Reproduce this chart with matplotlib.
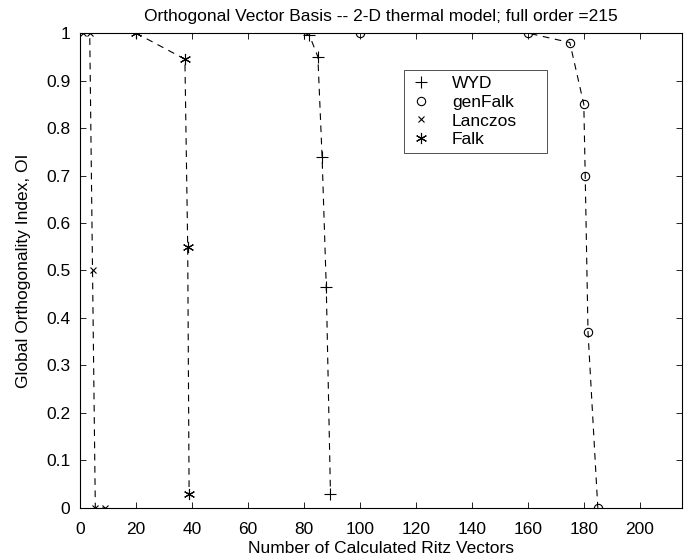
import numpy as np
import matplotlib.pyplot as plt

plt.rcParams['font.family'] = ['Liberation Sans', 'DejaVu Sans']

# Global orthogonality index vs number of Ritz vectors, per method
wyd_x = [80, 82, 85, 86.5, 88, 89.5]
wyd_y = [1.0, 0.995, 0.95, 0.74, 0.465, 0.03]

genfalk_x = [100, 160, 175, 180, 180.5, 181.5, 185]
genfalk_y = [1.0, 1.0, 0.98, 0.85, 0.70, 0.37, 0.0]

lanczos_x = [1, 3.5, 4.5, 5.5, 9]
lanczos_y = [1.0, 1.0, 0.5, 0.0, 0.0]

falk_x = [20, 37.5, 38.5, 39]
falk_y = [1.0, 0.945, 0.55, 0.03]

xticks = np.arange(0, 201, 20)
yticks = np.round(np.arange(0, 1.01, 0.1), 1)
ytick_labels = ['0' if v == 0 else ('1' if v == 1 else f'{v:g}') for v in yticks]

fig = plt.figure(figsize=(6.95, 5.6), dpi=100)
ax = fig.add_axes([0.115, 0.093, 0.866, 0.848])

asterisk = (6, 2, 0)
line_kw = dict(color='black', linestyle=(0, (6, 5)), linewidth=0.8,
               markeredgewidth=0.8)
ax.plot(wyd_x, wyd_y, marker='+', markersize=8, label='WYD', **line_kw)
ax.plot(genfalk_x, genfalk_y, marker='o', markersize=6, markerfacecolor='none',
        markeredgecolor='black', label='genFalk', **line_kw)
ax.plot(lanczos_x, lanczos_y, marker='x', markersize=4, label='Lanczos', **line_kw)
ax.plot(falk_x, falk_y, marker=asterisk, markersize=8, label='Falk', **line_kw)

ax.set_xlim(0, 215)
ax.set_ylim(0, 1)
ax.set_xticks(xticks)
ax.set_yticks(yticks)
ax.set_yticklabels(ytick_labels)
ax.tick_params(direction='in', top=True, right=True, length=4, width=0.6,
               labelsize=12.5)
ax.tick_params(axis='x', pad=10)
ax.tick_params(axis='y', pad=7)
for sp in ax.spines.values():
    sp.set_linewidth(0.8)
    sp.set_color('black')

ax.set_title('Orthogonal Vector Basis -- 2-D thermal model; full order =215',
             fontsize=12.5, pad=9)
ax.set_xlabel('Number of Calculated Ritz Vectors', fontsize=12.5, labelpad=3)
ax.set_ylabel('Global Orthogonality Index, OI', fontsize=12.5, labelpad=11)

handles, labels = ax.get_legend_handles_labels()
leg_handles = [plt.Line2D([], [], linestyle='none', marker=h.get_marker(),
                          markersize=h.get_markersize(), color='black',
                          markerfacecolor='none' if h.get_marker() == 'o' else 'black',
                          markeredgewidth=0.8)
               for h in handles]
leg = ax.legend(leg_handles, labels, loc='upper left',
                bbox_to_anchor=(0.539, 0.749, 0.237, 0.173), mode='expand',
                frameon=True, fancybox=False,
                fontsize=12.5, handlelength=1.2, handletextpad=1.2,
                borderpad=0.35, labelspacing=0.2, borderaxespad=0)
leg.get_frame().set_edgecolor('black')
leg.get_frame().set_linewidth(0.6)

fig.savefig('out.png', dpi=100)
